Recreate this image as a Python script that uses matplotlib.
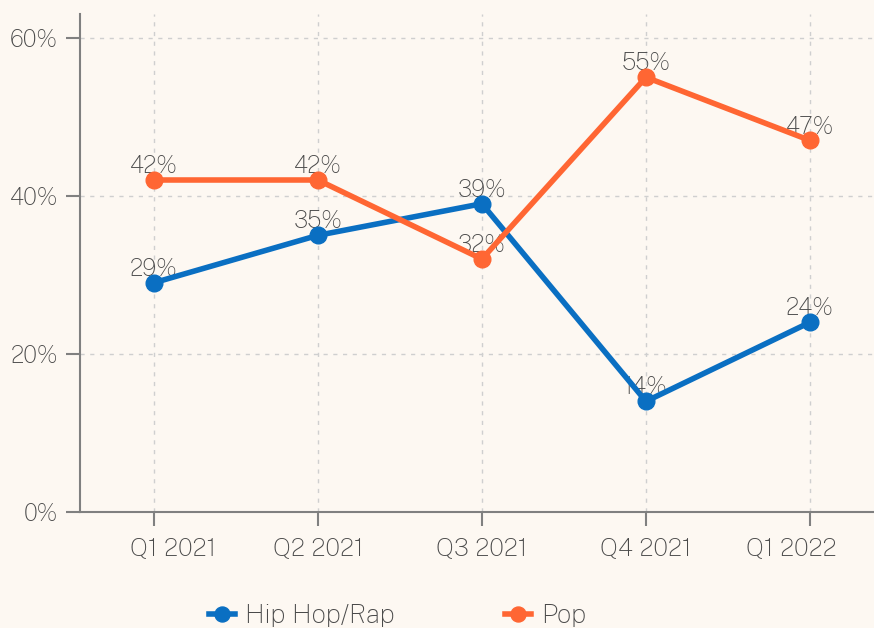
import matplotlib
matplotlib.use("Agg")
import matplotlib.pyplot as plt
from matplotlib.transforms import ScaledTranslation

# data
quarters = ["Q1 2021", "Q2 2021", "Q3 2021", "Q4 2021", "Q1 2022"]
hiphop = [29, 35, 39, 14, 24]
pop = [42, 42, 32, 55, 47]
y_ticks = [0, 20, 40, 60]

bg = "#fdf8f2"
blue = "#0a6fc2"
orange = "#ff6633"
txt = "#4a4a4a"

plt.rcParams['font.family'] = ['Public Sans', 'DejaVu Sans']

fig = plt.figure(figsize=(8.74, 6.28), dpi=100, facecolor=bg)
ax = fig.add_axes([80 / 874, 116 / 628, 1 - 80 / 874, (512 - 14) / 628])
ax.set_facecolor(bg)

x = list(range(len(quarters)))
ax.plot(x, hiphop, color=blue, lw=4, marker="o", ms=12, label="Hip Hop/Rap", zorder=3)
ax.plot(x, pop, color=orange, lw=4, marker="o", ms=12, label="Pop", zorder=3)

# value labels sit under the lines, like in the original
for series in (hiphop, pop):
    for xi, v in zip(x, series):
        ax.annotate(f"{v}%", (xi, v), xytext=(0, 10), textcoords="offset points",
                    ha="center", va="center", fontsize=17, color=txt, zorder=2)

ax.set_xlim(-0.45, 4.39)
ax.set_ylim(0, 63)
ax.set_xticks(x)
ax.set_xticklabels(quarters)
ax.set_yticks(y_ticks)
ax.set_yticklabels([f"{t}%" for t in y_ticks])

ax.grid(True, color="#cfcfcf", linestyle=(0, (3, 4)), lw=1)
ax.set_axisbelow(True)
for s in ["top", "right"]:
    ax.spines[s].set_visible(False)
for s in ["left", "bottom"]:
    ax.spines[s].set_color("#808080")
    ax.spines[s].set_linewidth(1.5)
ax.tick_params(axis="both", colors="#808080", length=10, width=1.5,
               labelcolor=txt)
ax.tick_params(axis="x", pad=8, labelsize=18)
ax.tick_params(axis="y", pad=6, labelsize=17)

# first and last x labels are nudged inwards in the original
labels = ax.get_xticklabels()
labels[0].set_transform(labels[0].get_transform() + ScaledTranslation(0.19, 0, fig.dpi_scale_trans))
labels[-1].set_transform(labels[-1].get_transform() + ScaledTranslation(-0.19, 0, fig.dpi_scale_trans))

leg = ax.legend(loc="center", bbox_to_anchor=(0.40, -0.207), ncol=2,
                frameon=False, fontsize=18.5, labelcolor=txt, columnspacing=4.3,
                handlelength=1.0, handletextpad=0.4, markerscale=0.9)

fig.savefig("out.png", dpi=100, facecolor=bg)
